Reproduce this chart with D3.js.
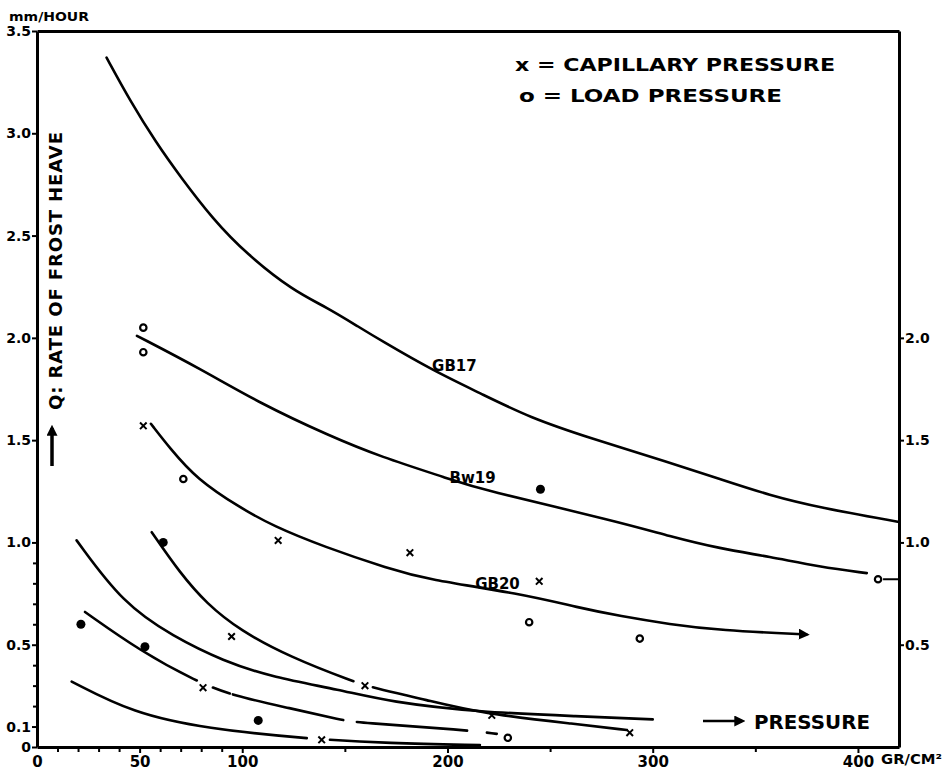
<!DOCTYPE html>
<html>
<head>
<meta charset="utf-8">
<script src="https://cdn.jsdelivr.net/npm/d3@7"></script>
<style>
body { margin: 0; background: #fff; }
svg text { font-family: "DejaVu Sans", sans-serif; font-weight: bold; fill: #000; }
</style>
</head>
<body>
<div id="chart"></div>
<script>
const width = 944
const height = 772

// pressure (gr/cm2) vs rate of frost heave (mm/hour)
const gb17 = [[33.9, 3.37], [45.3, 3.16], [58.3, 2.95], [69.7, 2.79], [85.7, 2.58], [102.1, 2.41], [124.8, 2.23],
    [141.1, 2.15], [157.3, 2.05], [167.1, 1.99], [192.9, 1.84], [215.8, 1.73], [240.1, 1.61], [269.4, 1.51],
    [308.3, 1.39], [332.7, 1.31], [357, 1.23], [381.4, 1.17], [420, 1.10]]
const bw19 = [[48.7, 2.01], [79.4, 1.85], [108.6, 1.68], [142.7, 1.52], [167.1, 1.42], [201.2, 1.31], [215.8, 1.26],
    [284, 1.10], [308.3, 1.03], [332.7, 0.97], [357, 0.93], [381.4, 0.88], [404.3, 0.85]]
const gb20 = [[55.5, 1.58], [64.8, 1.46], [77.8, 1.31], [98.9, 1.17], [115.1, 1.08], [139.5, 0.98], [171.9, 0.87],
    [189.8, 0.82], [235.3, 0.75], [264.5, 0.68], [284, 0.64], [308.3, 0.60], [332.7, 0.57], [374.9, 0.55]]
const curveD = [[55.9, 1.05], [69.7, 0.85], [82.7, 0.70], [98.9, 0.57], [123.2, 0.44], [154.1, 0.32], [163.7, 0.29],
    [189.8, 0.23], [215.8, 0.165], [264.5, 0.11], [287.4, 0.083]]
const curveE = [[19.3, 1.01], [42, 0.70], [66.4, 0.54], [90.7, 0.42], [115.1, 0.34], [147.6, 0.28], [171.9, 0.22],
    [215.8, 0.17], [264.5, 0.15], [300, 0.135]]
const curveF = [[23.4, 0.66], [50.2, 0.47], [77.8, 0.32], [95.6, 0.25], [123.2, 0.19], [149.2, 0.13], [155.7, 0.12],
    [209.3, 0.083], [224, 0.064]]
const curveG = [[16.9, 0.32], [46.9, 0.165], [82.7, 0.09], [131.4, 0.04], [171.9, 0.018], [215.8, 0.01]]

// breaks in the hand drawn lines (pressure ranges)
const gapsD = [[154.1, 163.7]]
const gapsF = [[77.8, 85.7], [94, 95.5], [149.2, 155.9], [209.5, 219.2]]
const gapsG = [[131.4, 142.7]]

const capillary = [[51.8, 1.57], [117.5, 1.01], [181.7, 0.95], [244.7, 0.81], [94.8, 0.54], [80.9, 0.29],
    [159.8, 0.30], [138.7, 0.035], [221.6, 0.155], [288.8, 0.07]]
const loadOpen = [[51.8, 2.05], [51.8, 1.93], [71.3, 1.31], [239.8, 0.61], [293.7, 0.53], [409.8, 0.82], [229.4, 0.045]]
const loadFilled = [[61.5, 1.0], [245.3, 1.26], [21.4, 0.60], [52.6, 0.49], [107.8, 0.13]]

const curveNames = ["GB17", "Bw19", "GB20"]
const namePos = [[192.5, 1.84], [201, 1.29], [213.5, 0.77]]

const xMajor = [0, 50, 100, 200, 300, 400]
const xMinor = [10, 20, 30, 40, 60, 70, 80, 90, 150, 250, 350]
const yMajor = [0, 0.1, 0.5, 1, 1.5, 2, 2.5, 3, 3.5]
const yLabels = ["0", "0.1", "0.5", "1.0", "1.5", "2.0", "2.5", "3.0", "3.5"]
const yMinor = [0.2, 0.3, 0.4, 0.6, 0.7, 0.8, 0.9]
const yRight = [0.5, 1, 1.5, 2]

const x = d3.scaleLinear().domain([0, 420]).range([37, 899])
const y = d3.scaleLinear().domain([0, 3.5]).range([747, 31])

const svg = d3.select("#chart").append("svg")
    .attr("width", width)
    .attr("height", height)

const defs = svg.append("defs")
defs.append("marker").attr("id", "arrow")
    .attr("viewBox", "0 0 10 10")
    .attr("refX", 7).attr("refY", 5)
    .attr("markerWidth", 11).attr("markerHeight", 11)
    .attr("markerUnits", "userSpaceOnUse")
    .attr("orient", "auto")
    .append("path").attr("d", "M0,0L10,5L0,10z")

// axes
const xAxis = d3.axisBottom(x).tickValues(xMajor).tickSize(6).tickSizeOuter(0).tickPadding(3)
const gx = svg.append("g").attr("transform", `translate(0,${y(0)})`).call(xAxis)
gx.selectAll("text").attr("font-size", 15)
gx.selectAll(".tick").filter(d => d == 0).select("line").remove()
svg.append("g").attr("transform", `translate(0,${y(0)})`)
    .call(d3.axisBottom(x).tickValues(xMinor).tickSize(5).tickSizeOuter(0).tickFormat(""))
    .select(".domain").remove()

const gy = svg.append("g").attr("transform", `translate(${x(0)},0)`)
    .call(d3.axisLeft(y).tickValues(yMajor).tickFormat((d, i) => yLabels[i]).tickSize(5).tickSizeOuter(0).tickPadding(1))
gy.selectAll("text").attr("font-size", 14)
svg.append("g").attr("transform", `translate(${x(0)},0)`)
    .call(d3.axisLeft(y).tickValues(yMinor).tickSize(4).tickSizeOuter(0).tickFormat(""))
    .select(".domain").remove()

const gr = svg.append("g").attr("transform", `translate(${x(420)},0)`)
    .call(d3.axisRight(y).tickValues(yRight).tickFormat(d3.format(".1f")).tickSize(5).tickSizeOuter(0).tickPadding(1))
gr.selectAll("text").attr("font-size", 14)

svg.append("g").attr("transform", `translate(0,${y(3.5)})`)
    .call(d3.axisTop(x).tickValues([]).tickSizeOuter(0))

svg.selectAll(".domain").attr("stroke-width", 3)
svg.selectAll(".tick line").attr("stroke-width", 2)

// curves
const line = d3.line()
    .x(d => x(d[0]))
    .y(d => y(d[1]))
    .curve(d3.curveBasis)

function gapDash(node, gaps) {
    const total = node.getTotalLength()
    const at = px => {
        let lo = 0, hi = total
        for (let i = 0; i < 40; i++) {
            const mid = (lo + hi) / 2
            if (node.getPointAtLength(mid).x < px) lo = mid
            else hi = mid
        }
        return lo
    }
    let pos = 0, dash = []
    gaps.forEach(([a, b]) => {
        const la = at(x(a)), lb = at(x(b))
        dash.push(la - pos, lb - la)
        pos = lb
    })
    dash.push(total - pos + 1, total)
    return dash.join(",")
}

const curves = [
    { pts: gb17, gaps: [] },
    { pts: bw19, gaps: [] },
    { pts: gb20, gaps: [], arrow: true },
    { pts: curveD, gaps: gapsD },
    { pts: curveE, gaps: [] },
    { pts: curveF, gaps: gapsF },
    { pts: curveG, gaps: gapsG },
]

curves.forEach(c => {
    const p = svg.append("path")
        .attr("d", line(c.pts))
        .attr("fill", "none")
        .attr("stroke", "#000")
        .attr("stroke-width", 2.6)
        .attr("stroke-linecap", "round")
    if (c.gaps.length) p.attr("stroke-dasharray", gapDash(p.node(), c.gaps))
    if (c.arrow) p.attr("marker-end", "url(#arrow)")
})

// leader from the last BW19 point to the right axis
svg.append("line")
    .attr("x1", x(loadOpen[5][0]) + 5).attr("x2", x(420))
    .attr("y1", y(loadOpen[5][1])).attr("y2", y(loadOpen[5][1]))
    .attr("stroke", "#000").attr("stroke-width", 2)

// points
svg.selectAll(".open").data(loadOpen).enter().append("circle")
    .attr("class", "open")
    .attr("cx", d => x(d[0])).attr("cy", d => y(d[1]))
    .attr("r", 3.2).attr("fill", "#fff").attr("stroke", "#000").attr("stroke-width", 2.2)

svg.selectAll(".filled").data(loadFilled).enter().append("circle")
    .attr("class", "filled")
    .attr("cx", d => x(d[0])).attr("cy", d => y(d[1]))
    .attr("r", 4.5).attr("fill", "#000")

svg.selectAll(".cap").data(capillary).enter().append("path")
    .attr("class", "cap")
    .attr("transform", d => `translate(${x(d[0])},${y(d[1])})`)
    .attr("d", d3.symbol().type(d3.symbolX).size(30))
    .attr("stroke", "#000").attr("stroke-width", 2)

// curve names
svg.selectAll(".name").data(curveNames).enter().append("text")
    .attr("class", "name")
    .attr("x", (d, i) => x(namePos[i][0]))
    .attr("y", (d, i) => y(namePos[i][1]))
    .attr("font-size", 15)
    .attr("font-weight", "normal")
    .text(d => d)

// legend and notes
svg.append("text").attr("x", 515).attr("y", 71).attr("font-size", 18)
    .attr("textLength", 320).attr("lengthAdjust", "spacingAndGlyphs")
    .text("x = CAPILLARY  PRESSURE")
svg.append("text").attr("x", 519).attr("y", 102).attr("font-size", 18)
    .attr("textLength", 263).attr("lengthAdjust", "spacingAndGlyphs")
    .text("o = LOAD  PRESSURE")

svg.append("text").attr("x", 9).attr("y", 21).attr("font-size", 13)
    .attr("textLength", 80).attr("lengthAdjust", "spacingAndGlyphs")
    .text("mm/HOUR")

svg.append("text")
    .attr("transform", "translate(62,271) rotate(-90)")
    .attr("text-anchor", "middle")
    .attr("font-size", 18)
    .attr("textLength", 278).attr("lengthAdjust", "spacing")
    .text("Q: RATE OF FROST HEAVE")

svg.append("line")
    .attr("x1", 52).attr("x2", 52).attr("y1", 466).attr("y2", 428)
    .attr("stroke", "#000").attr("stroke-width", 3.5)
    .attr("marker-end", "url(#arrow)")

svg.append("line")
    .attr("x1", 703).attr("x2", 742).attr("y1", 721).attr("y2", 721)
    .attr("stroke", "#000").attr("stroke-width", 2.5)
    .attr("marker-end", "url(#arrow)")
svg.append("text").attr("x", 754).attr("y", 729).attr("font-size", 19)
    .attr("textLength", 116).attr("lengthAdjust", "spacingAndGlyphs")
    .text("PRESSURE")

svg.append("text").attr("x", 881).attr("y", 764).attr("font-size", 14)
    .attr("textLength", 61).attr("lengthAdjust", "spacingAndGlyphs")
    .text("GR/CM²")
</script>
</body>
</html>
